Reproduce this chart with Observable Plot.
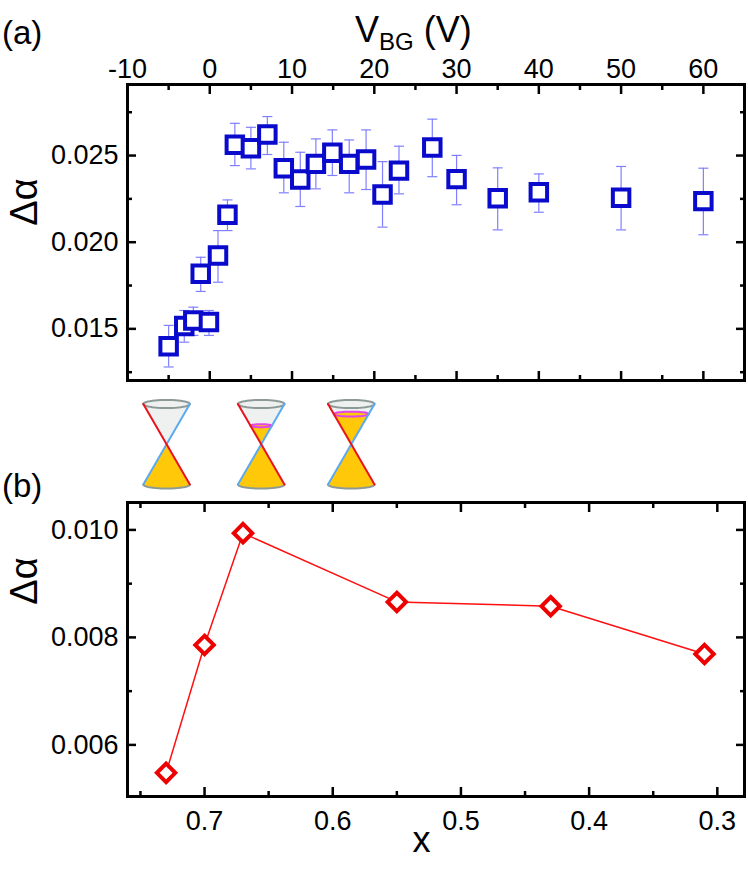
<!DOCTYPE html>
<html><head><meta charset="utf-8">
<script src="https://cdn.jsdelivr.net/npm/d3@7"></script>
<script src="https://cdn.jsdelivr.net/npm/@observablehq/plot@0.6"></script>
<style>
body{margin:0;background:#fff;}
#wrap{position:relative;width:748px;height:872px;overflow:hidden;}
#wrap svg{position:absolute;left:0;}
</style></head><body><div id="wrap"></div>
<script>
// ---- panel (a) data ----
const vbg = [-5, -3.1, -2, -1.1, -0.1, 1, 2.15, 3.05, 5, 7, 9, 11, 12.9, 14.9, 16.95, 19, 21, 23, 27.05, 30, 35, 40, 50, 60];
const dAlpha = [0.0140, 0.01516, 0.01548, 0.01818, 0.01539, 0.01923, 0.02158, 0.02563, 0.02542, 0.02621, 0.02427, 0.02362, 0.02452, 0.02516, 0.02452, 0.02477, 0.02275, 0.02413, 0.02546, 0.02364, 0.02254, 0.02288, 0.02256, 0.02237];
const errLow = [0.0128, 0.01423, 0.01462, 0.01716, 0.01462, 0.01769, 0.02067, 0.02442, 0.02423, 0.02506, 0.02285, 0.02206, 0.02308, 0.02385, 0.02285, 0.02304, 0.02087, 0.02279, 0.02378, 0.02216, 0.02071, 0.02173, 0.02071, 0.02043];
const errHigh = [0.0152, 0.01606, 0.01625, 0.01913, 0.01606, 0.02067, 0.02244, 0.02686, 0.02663, 0.02725, 0.02577, 0.02519, 0.02596, 0.02648, 0.0259, 0.02648, 0.02465, 0.02554, 0.0271, 0.02501, 0.02429, 0.02394, 0.02437, 0.02427];
const vbgMajor = [-10, 0, 10, 20, 30, 40, 50, 60];
const vbgMinor = [-5, 5, 15, 25, 35, 45, 55];
const daTopMajor = [0.015, 0.020, 0.025];
const daTopMinor = [0.0125, 0.0175, 0.0225, 0.0275];

// ---- schematic Dirac cones (gate voltage they illustrate, Fermi filling of upper cone) ----
const coneVbg = [-5.25, 6.25, 17.2];
const coneFilling = [0, 0.46, 0.75];

// ---- panel (b) data ----
const xComp = [0.73, 0.70, 0.67, 0.55, 0.43, 0.31];
const dAlphaComp = [0.00548, 0.00786, 0.00994, 0.00866, 0.00858, 0.00769];
const xMajor = [0.7, 0.6, 0.5, 0.4, 0.3];
const xMinor = [0.75, 0.65, 0.55, 0.45, 0.35];
const daBotMajor = [0.006, 0.008, 0.010];
const daBotMinor = [0.007, 0.009];

const FONT = "'Liberation Sans', Arial, Helvetica, sans-serif";
const TICKFS = 27;
const blank = () => "";
const fmt3 = d3.format(".3f");
const fmt1 = d3.format(".1f");
const fmtInt = d => String(d);
const capSymbol = {draw(ctx, size) { const w = Math.sqrt(size / Math.PI); ctx.moveTo(-w, 0); ctx.lineTo(w, 0); }};
const wrap = document.getElementById("wrap");

function frameAxes(xMaj, xMin, yMaj, yMin, xLabelSide, xFmt, yFmt, xPad) {
  const common = {strokeWidth: 2.5, fontSize: TICKFS, label: null};
  const other = xLabelSide === "top" ? "bottom" : "top";
  return [
    Plot.axisX(xMaj, {...common, anchor: xLabelSide, tickSize: -9, tickPadding: xPad, tickFormat: xFmt}),
    Plot.axisX(xMin, {...common, anchor: xLabelSide, tickSize: -5, tickFormat: blank}),
    Plot.axisX(xMaj, {...common, anchor: other, tickSize: -9, tickFormat: blank}),
    Plot.axisX(xMin, {...common, anchor: other, tickSize: -5, tickFormat: blank}),
    Plot.axisY(yMaj, {...common, anchor: "left", tickSize: -9, tickPadding: 18, tickFormat: yFmt}),
    Plot.axisY(yMin, {...common, anchor: "left", tickSize: -5, tickFormat: blank}),
    Plot.axisY(yMaj, {...common, anchor: "right", tickSize: -9, tickFormat: blank}),
    Plot.axisY(yMin, {...common, anchor: "right", tickSize: -5, tickFormat: blank}),
    Plot.frame({stroke: "black", strokeWidth: 3})
  ];
}

// ---------- panel (a) ----------
const idxA = d3.range(vbg.length);
const plotA = Plot.plot({
  width: 748, height: 390,
  marginLeft: 127, marginRight: 4, marginTop: 84, marginBottom: 10,
  style: {fontFamily: FONT, color: "black", background: "transparent"},
  x: {domain: [-10, 65]},
  y: {domain: [0.01202, 0.0291]},
  marks: [
    Plot.ruleX(idxA, {x: i => vbg[i], y1: i => errLow[i], y2: i => errHigh[i], stroke: "#8080ff", strokeWidth: 1.2}),
    Plot.dot(idxA, {x: i => vbg[i], y: i => errLow[i], symbol: capSymbol, r: 5, stroke: "#8080ff", strokeWidth: 1.2}),
    Plot.dot(idxA, {x: i => vbg[i], y: i => errHigh[i], symbol: capSymbol, r: 5, stroke: "#8080ff", strokeWidth: 1.2}),
    Plot.dot(idxA, {x: i => vbg[i], y: i => dAlpha[i], symbol: "square", r: 9.3, stroke: "#0a0acd", strokeWidth: 4, fill: "white"}),
    ...frameAxes(vbgMajor, vbgMinor, daTopMajor, daTopMinor, "top", fmtInt, fmt3, 16)
  ]
});
plotA.style.top = "0px";
wrap.appendChild(plotA);

// ---------- cones ----------
const coneHalfW = 2.83, ellRy = 0.1;
function arc(cx, cy, rx, ry, a0, a1, n = 48) {
  return d3.range(n + 1).map(k => { const a = a0 + (a1 - a0) * k / n; return [cx + rx * Math.cos(a), cy + ry * Math.sin(a)]; });
}
const upperGray = [], lowerGold = [], fermiGold = [], fermiRing = [], topRing = [], bottomArc = [], redLine = [], blueLine = [];
const push = (arr, id, pts) => pts.forEach(([x, y]) => arr.push({id, x, y}));
coneVbg.forEach((c, i) => {
  const w = coneHalfW, f = coneFilling[i];
  push(upperGray, i, [[c - w, 1], [c, 0], ...arc(c, 1, w, ellRy, 0, Math.PI)]);
  push(lowerGold, i, [[c - w, -1], [c, 0], ...arc(c, -1, w, ellRy, 0, -Math.PI)]);
  if (f > 0) {
    push(fermiGold, i, [[c - f * w, f], [c, 0], ...arc(c, f, f * w, f * ellRy * 0.8, 0, Math.PI)]);
    push(fermiRing, i, arc(c, f, f * w, f * ellRy * 0.8, 0, 2 * Math.PI));
  }
  push(topRing, i, arc(c, 1, w, ellRy, 0, 2 * Math.PI));
  push(bottomArc, i, arc(c, -1, w, ellRy, Math.PI, 2 * Math.PI));
  push(redLine, i, [[c - w, 1], [c + w, -1]]);
  push(blueLine, i, [[c + w, 1], [c - w, -1]]);
});
const L = (data, o) => Plot.line(data, {x: "x", y: "y", z: "id", ...o});
const plotC = Plot.plot({
  width: 748, height: 104,
  marginLeft: 127, marginRight: 4, marginTop: 0, marginBottom: 0,
  style: {background: "transparent"},
  x: {domain: [-10, 65], axis: null},
  y: {domain: [-1.248, 1.335], axis: null},
  marks: [
    L(upperGray, {fill: "#eef1f0", stroke: "none", curve: "linear-closed"}),
    L(lowerGold, {fill: "#ffc808", stroke: "none", curve: "linear-closed"}),
    L(fermiGold, {fill: "#ffc808", stroke: "none", curve: "linear-closed"}),
    L(topRing, {stroke: "#8c9a97", strokeWidth: 2}),
    L(bottomArc, {stroke: "#8c9a97", strokeWidth: 2}),
    L(fermiRing, {stroke: "#e245e8", strokeWidth: 2}),
    L(blueLine, {stroke: "#5aaaf2", strokeWidth: 2}),
    L(redLine, {stroke: "#e8141c", strokeWidth: 2})
  ]
});
plotC.style.top = "390px";
wrap.appendChild(plotC);

// ---------- panel (b) ----------
const idxB = d3.range(xComp.length);
const plotB = Plot.plot({
  width: 748, height: 378,
  marginLeft: 127, marginRight: 4, marginTop: 8, marginBottom: 76,
  style: {fontFamily: FONT, color: "black", background: "transparent"},
  x: {domain: [0.7601, 0.2788]},
  y: {domain: [0.00504, 0.01051]},
  marks: [
    Plot.line(idxB, {x: i => xComp[i], y: i => dAlphaComp[i], stroke: "#ff1010", strokeWidth: 1.5}),
    Plot.dot(idxB, {x: i => xComp[i], y: i => dAlphaComp[i], symbol: d3.symbolDiamond2, r: 8.3, stroke: "#ee0000", strokeWidth: 4, fill: "white"}),
    ...frameAxes(xMajor, xMinor, daBotMajor, daBotMinor, "bottom", fmt1, fmt3, 23)
  ]
});
plotB.style.top = "494px";
wrap.appendChild(plotB);

// ---------- text overlay ----------
const ov = d3.select(wrap).append("svg")
  .attr("width", 748).attr("height", 872)
  .style("top", "0px").style("pointer-events", "none")
  .attr("font-family", FONT).attr("fill", "black");
ov.append("text").attr("x", 2).attr("y", 44).attr("font-size", 33).text("(a)");
ov.append("text").attr("x", 2).attr("y", 497).attr("font-size", 33).text("(b)");
const t = ov.append("text").attr("x", 355).attr("y", 42).attr("font-size", 36);
t.append("tspan").text("V");
t.append("tspan").attr("font-size", 24).attr("dy", 8).text("BG");
t.append("tspan").attr("dy", -8).text(" (V)");
ov.append("text").attr("transform", "translate(37,202) rotate(-90)").attr("text-anchor", "middle").attr("font-size", 38).text("Δα");
ov.append("text").attr("transform", "translate(37,581) rotate(-90)").attr("text-anchor", "middle").attr("font-size", 38).text("Δα");
ov.append("text").attr("x", 421.5).attr("y", 852).attr("text-anchor", "middle").attr("font-size", 36).text("x");
</script>
</body></html>
